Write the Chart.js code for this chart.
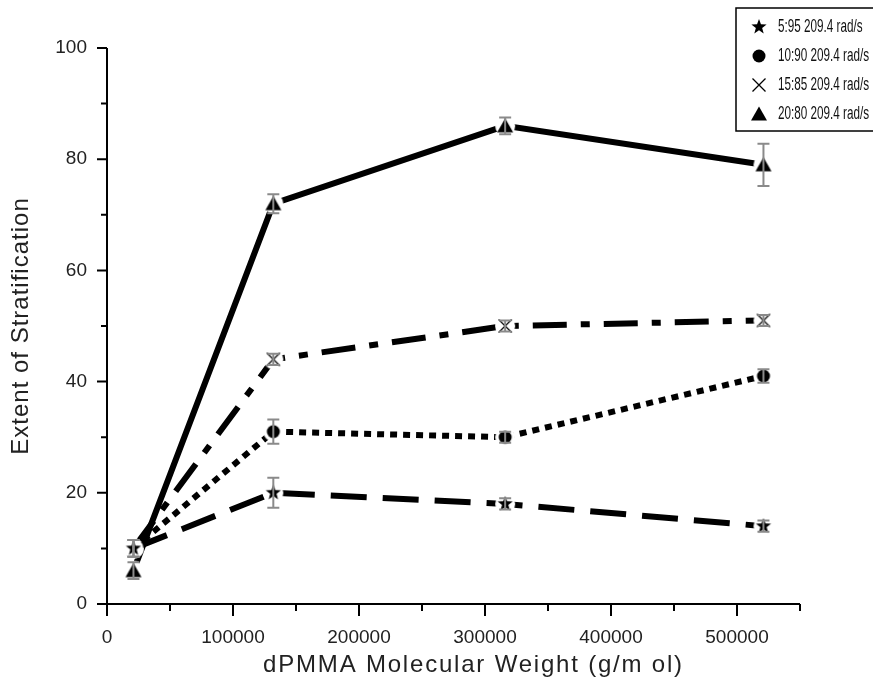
<!DOCTYPE html>
<html>
<head>
<meta charset="utf-8">
<script src="https://cdn.jsdelivr.net/npm/chart.js"></script>
<style>
  body { margin: 0; background: #fff; }
  canvas { display: block; }
</style>
</head>
<body>
<canvas id="strat" width="873" height="690"></canvas>
<script>
// data
const molWeight = [21000, 132000, 316000, 521000];
const labels = ['5:95 209.4 rad/s', '10:90 209.4 rad/s', '15:85 209.4 rad/s', '20:80 209.4 rad/s'];
const star595 = [10, 20, 18, 14];
const star595Err = [1.5, 2.7, 1, 1];
const circle1090 = [10, 31, 30, 41];
const circle1090Err = [1.5, 2.2, 1, 1.2];
const cross1585 = [10, 44, 50, 51];
const cross1585Err = [1.5, 1, 1, 1];
const tri2080 = [6, 72, 86, 79];
const tri2080Err = [1.5, 1.7, 1.5, 3.8];
const xTicks = [0, 100000, 200000, 300000, 400000, 500000];
const yTicks = [0, 20, 40, 60, 80, 100];
const xTitle = 'dPMMA Molecular Weight (g/m ol)';
const yTitle = 'Extent of Stratification';

const FONT = '"Liberation Sans", Arial, sans-serif';

// marker pictures, with a white halo so the line breaks around them
function marker(kind, halo) {
  const c = document.createElement('canvas');
  c.width = 24; c.height = 24;
  const g = c.getContext('2d');
  const m = 12;
  if (halo) {
    g.fillStyle = '#fff';
    g.beginPath(); g.arc(m, m, 10, 0, Math.PI * 2); g.fill();
  }
  g.fillStyle = '#000';
  g.strokeStyle = '#000';
  if (kind === 'star') {
    g.beginPath();
    for (let i = 0; i < 10; i++) {
      const r = i % 2 ? 3.3 : 8;
      const a = -Math.PI / 2 + i * Math.PI / 5;
      g.lineTo(m + r * Math.cos(a), m + r * Math.sin(a));
    }
    g.closePath(); g.fill();
  } else if (kind === 'circle') {
    g.beginPath(); g.arc(m, m, 6.5, 0, Math.PI * 2); g.fill();
  } else if (kind === 'cross') {
    g.lineWidth = 1.3;
    g.beginPath();
    g.moveTo(m - 6.5, m - 6.5); g.lineTo(m + 6.5, m + 6.5);
    g.moveTo(m + 6.5, m - 6.5); g.lineTo(m - 6.5, m + 6.5);
    g.stroke();
  } else {
    g.beginPath();
    g.moveTo(m, m - 7.5); g.lineTo(m + 8, m + 6.5); g.lineTo(m - 8, m + 6.5);
    g.closePath(); g.fill();
  }
  return c;
}

const kinds = ['star', 'circle', 'cross', 'tri'];
const seriesY = [star595, circle1090, cross1585, tri2080];
const seriesErr = [star595Err, circle1090Err, cross1585Err, tri2080Err];
const dashes = [[36, 16], [7, 6], [34, 14, 9, 14], []];

function pts(ys) {
  return molWeight.map((x, i) => ({ x: x, y: ys[i] }));
}

const datasets = seriesY.map((ys, k) => ({
  label: labels[k],
  data: pts(ys),
  showLine: true,
  borderColor: '#000',
  borderWidth: 6,
  borderDash: dashes[k],
  borderCapStyle: 'butt',
  pointStyle: marker(kinds[k], true),
  pointRadius: 10,
  pointHoverRadius: 10
}));

const decor = {
  id: 'decor',
  afterDatasetsDraw(chart) {
    const ctx = chart.ctx;
    const xs = chart.scales.x, ys = chart.scales.y;
    ctx.save();
    ctx.strokeStyle = '#8a8a8a';
    ctx.lineWidth = 2;
    seriesY.forEach((vals, k) => {
      vals.forEach((v, i) => {
        const px = xs.getPixelForValue(molWeight[i]);
        const top = ys.getPixelForValue(v + seriesErr[k][i]);
        const bot = ys.getPixelForValue(v - seriesErr[k][i]);
        ctx.beginPath();
        ctx.moveTo(px, top); ctx.lineTo(px, bot);
        ctx.moveTo(px - 6, top); ctx.lineTo(px + 6, top);
        ctx.moveTo(px - 6, bot); ctx.lineTo(px + 6, bot);
        ctx.stroke();
      });
    });
    ctx.restore();
  },
  afterDraw(chart) {
    const ctx = chart.ctx;
    const xs = chart.scales.x, ys = chart.scales.y;
    const a = chart.chartArea;
    ctx.save();
    ctx.strokeStyle = '#000';
    ctx.lineWidth = 2;
    ctx.beginPath();
    ctx.moveTo(a.left, a.top); ctx.lineTo(a.left, a.bottom); ctx.lineTo(a.right, a.bottom);
    // x ticks, major every 100000, minor in between
    for (let v = 0; v <= 550000; v += 50000) {
      const px = xs.getPixelForValue(v);
      ctx.moveTo(px, a.bottom); ctx.lineTo(px, a.bottom + (v % 100000 === 0 ? 12 : 7));
    }
    for (let v = 0; v <= 100; v += 10) {
      const py = ys.getPixelForValue(v);
      ctx.moveTo(a.left, py); ctx.lineTo(a.left - (v % 20 === 0 ? 10 : 6), py);
    }
    ctx.stroke();

    // axis titles (wide lettering like the scan)
    ctx.fillStyle = '#222';
    ctx.font = '24px ' + FONT;
    ctx.letterSpacing = '1.8px';
    ctx.textAlign = 'center';
    ctx.textBaseline = 'middle';
    ctx.fillText(xTitle, (a.left + a.right) / 2 + 20, 665);
    ctx.save();
    ctx.translate(21, (a.top + a.bottom) / 2);
    ctx.rotate(-Math.PI / 2);
    ctx.letterSpacing = '1px';
    ctx.fillText(yTitle, 0, 0);
    ctx.restore();
    ctx.letterSpacing = '0px';

    // legend box
    const bx = 736, by = 8, bw = 150, bh = 123;
    ctx.fillStyle = '#fff';
    ctx.fillRect(bx, by, bw, bh);
    ctx.lineWidth = 1.5;
    ctx.strokeRect(bx, by, bw, bh);
    ctx.font = '18px ' + FONT;
    ctx.textAlign = 'left';
    ctx.textBaseline = 'middle';
    ctx.fillStyle = '#111';
    labels.forEach((t, k) => {
      const ry = 27 + k * 29;
      ctx.drawImage(marker(kinds[k], false), 759 - 12, ry - 12);
      ctx.save();
      ctx.translate(778, ry);
      ctx.scale(0.65, 1);
      ctx.fillText(t, 0, 0);
      ctx.restore();
    });
    ctx.restore();
  }
};

new Chart('strat', {
  type: 'scatter',
  data: { datasets: datasets },
  options: {
    responsive: false,
    animation: false,
    devicePixelRatio: 1,
    layout: { padding: { top: 48, right: 73, left: 0, bottom: 0 } },
    plugins: { legend: { display: false }, tooltip: { enabled: false } },
    scales: {
      x: {
        type: 'linear',
        min: 0,
        max: 550000,
        grid: { display: false, drawTicks: false },
        border: { display: false },
        afterFit(s) { s.height = 86; },
        ticks: {
          stepSize: 50000,
          padding: 22,
          color: '#222',
          font: { family: FONT, size: 19 },
          maxRotation: 0,
          autoSkip: false,
          callback: v => xTicks.includes(v) ? String(v) : ''
        }
      },
      y: {
        min: 0,
        max: 100,
        grid: { display: false, drawTicks: false },
        border: { display: false },
        afterFit(s) { s.width = 107; },
        ticks: {
          stepSize: 20,
          padding: 20,
          color: '#222',
          font: { family: FONT, size: 19 },
          callback: v => yTicks.includes(v) ? String(v) : ''
        }
      }
    }
  },
  plugins: [decor]
});
</script>
</body>
</html>
